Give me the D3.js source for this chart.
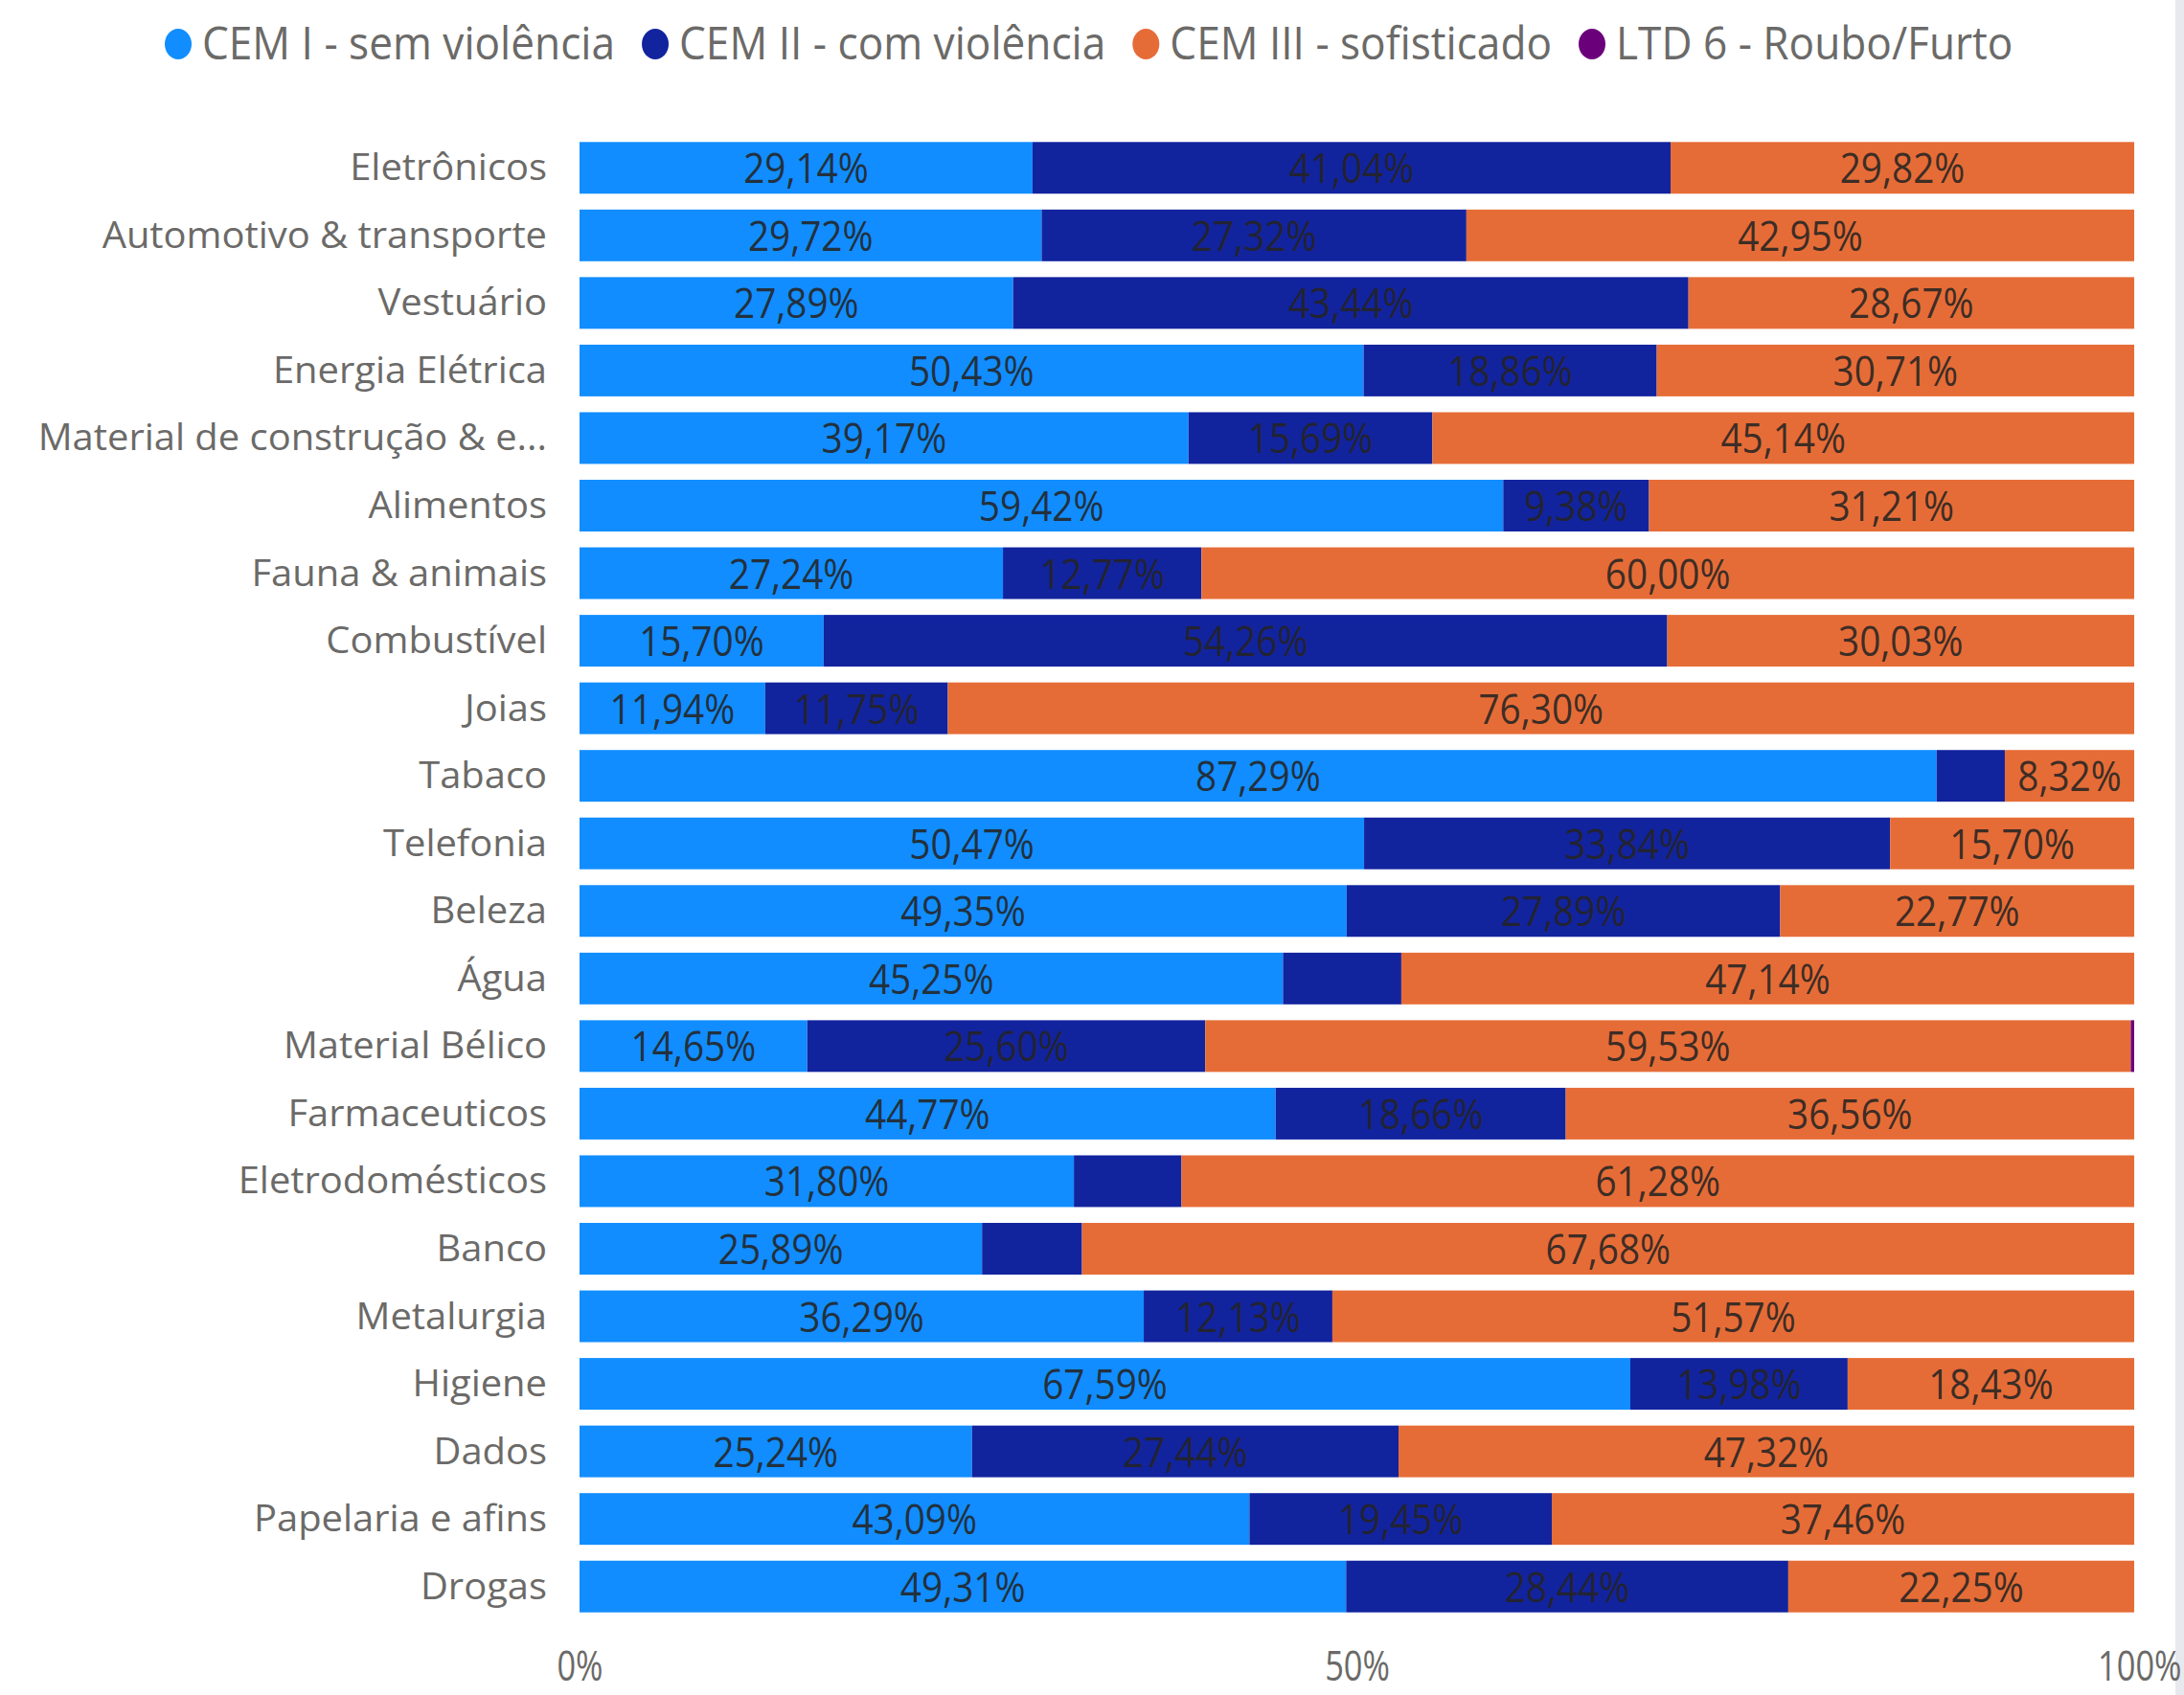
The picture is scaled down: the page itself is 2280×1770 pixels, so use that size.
<!DOCTYPE html>
<html>
<head>
<meta charset="utf-8">
<script src="https://cdn.jsdelivr.net/npm/d3@7"></script>
<style>
  body { margin: 0; background: #fff; }
  svg { display: block; font-family: "Open Sans", "Noto Sans", sans-serif; }
</style>
</head>
<body>
<div id="chart"></div>
<script>
// Categories, top to bottom
const categories = [
  "Eletrônicos", "Automotivo & transporte", "Vestuário", "Energia Elétrica",
  "Material de construção & e...", "Alimentos", "Fauna & animais", "Combustível",
  "Joias", "Tabaco", "Telefonia", "Beleza", "Água", "Material Bélico",
  "Farmaceuticos", "Eletrodomésticos", "Banco", "Metalurgia", "Higiene",
  "Dados", "Papelaria e afins", "Drogas"
];

// Series values (%)
const cem1 = [29.14, 29.72, 27.89, 50.43, 39.17, 59.42, 27.24, 15.70, 11.94, 87.29, 50.47,
  49.35, 45.25, 14.65, 44.77, 31.80, 25.89, 36.29, 67.59, 25.24, 43.09, 49.31];
const cem2 = [41.04, 27.32, 43.44, 18.86, 15.69, 9.38, 12.77, 54.26, 11.75, 4.39, 33.84,
  27.89, 7.61, 25.60, 18.66, 6.92, 6.43, 12.13, 13.98, 27.44, 19.45, 28.44];
const cem3 = [29.82, 42.95, 28.67, 30.71, 45.14, 31.21, 60.00, 30.03, 76.30, 8.32, 15.70,
  22.77, 47.14, 59.53, 36.56, 61.28, 67.68, 51.57, 18.43, 47.32, 37.46, 22.25];
const ltd6 = [0, 0, 0, 0, 0, 0, 0, 0, 0, 0, 0,
  0, 0, 0.22, 0, 0, 0, 0, 0, 0, 0, 0];

const seriesNames = ["CEM I - sem violência", "CEM II - com violência", "CEM III - sofisticado", "LTD 6 - Roubo/Furto"];
const seriesKeys = ["cem1", "cem2", "cem3", "ltd6"];
const colors = ["#118DFF", "#12239E", "#E66C37", "#6B007B"];

const tickValues = [0, 0.5, 1];
const tickLabels = ["0%", "50%", "100%"];

const W = 2280, H = 1770;
const margin = { top: 140, right: 52, bottom: 78, left: 605 };

const rows = categories.map((c, i) => ({
  category: c, cem1: cem1[i], cem2: cem2[i], cem3: cem3[i], ltd6: ltd6[i]
}));

const svg = d3.select("#chart").append("svg")
  .attr("width", W).attr("height", H);

// light panel edge on the right
svg.append("rect").attr("x", 2271).attr("y", 0).attr("width", 9).attr("height", H)
  .attr("fill", "#e7e9ef");

const x = d3.scaleLinear().domain([0, 1]).range([margin.left, W - margin.right]);
const y = d3.scaleBand().domain(categories)
  .range([margin.top, H - margin.bottom])
  .paddingInner(0.235).paddingOuter(0.1175);

const stack = d3.stack().keys(seriesKeys).offset(d3.stackOffsetExpand);
const stacked = stack(rows);

// bars
const layers = svg.append("g").selectAll("g")
  .data(stacked).join("g")
  .attr("fill", (d, i) => colors[i]);

layers.selectAll("rect")
  .data(d => d)
  .join("rect")
  .attr("x", d => x(d[0]))
  .attr("y", d => y(d.data.category))
  .attr("width", d => Math.max(0, x(d[1]) - x(d[0])))
  .attr("height", y.bandwidth());

// helper: text drawn with a horizontal squeeze around its anchor
function squeezed(sel, sx) {
  return sel.attr("transform", function () {
    const t = d3.select(this);
    return `translate(${t.attr("data-x")},${t.attr("data-y")}) scale(${sx},1)`;
  });
}

// data labels
const fmt = v => d3.format(".2f")(v).replace(".", ",") + "%";
const labels = [];
stacked.forEach((layer, si) => {
  layer.forEach(d => {
    const v = d.data[seriesKeys[si]];
    if (v >= 8) labels.push({ x: (x(d[0]) + x(d[1])) / 2, y: y(d.data.category) + y.bandwidth() / 2, t: fmt(v) });
  });
});
svg.append("g").selectAll("text")
  .data(labels).join("text")
  .attr("data-x", d => d.x).attr("data-y", d => d.y + 16)
  .attr("text-anchor", "middle")
  .attr("font-size", 44)
  .attr("fill", "#252423")
  .attr("fill-opacity", 0.9)
  .text(d => d.t)
  .call(squeezed, 0.88);

// category axis
svg.append("g").selectAll("text")
  .data(categories).join("text")
  .attr("data-x", 571).attr("data-y", d => y(d) + y.bandwidth() / 2 + 13)
  .attr("text-anchor", "end")
  .attr("font-size", 38)
  .attr("fill", "#6b6a68")
  .text(d => d)
  .call(squeezed, 1.05);

// value axis
const xAxis = d3.axisBottom(x).tickValues(tickValues).tickFormat((d, i) => tickLabels[i]).tickSize(0);
const gx = svg.append("g").attr("transform", `translate(0,${H - 15})`).call(xAxis);
gx.select(".domain").remove();
gx.selectAll("text")
  .attr("font-size", 43)
  .attr("font-family", "Open Sans, sans-serif")
  .attr("fill", "#6b6a68")
  .attr("dy", 0)
  .attr("y", 0)
  .attr("transform", "scale(0.8,1)");
// last label pushed against the right edge
gx.selectAll(".tick").filter(d => d === 1).select("text")
  .attr("text-anchor", "end").attr("x", (W - 3 - x(1)) / 0.8);

// legend
const legend = svg.append("g");
let cx = 186;
seriesNames.forEach((name, i) => {
  legend.append("ellipse")
    .attr("cx", cx).attr("cy", 46)
    .attr("rx", 14).attr("ry", 16)
    .attr("fill", colors[i]);
  const t = legend.append("text")
    .attr("data-x", cx + 25).attr("data-y", 62)
    .attr("font-size", 47)
    .attr("fill", "#6b6a68")
    .text(name)
    .call(squeezed, 0.94);
  cx += 25 + t.node().getComputedTextLength() * 0.94 + 42;
});
</script>
</body>
</html>
